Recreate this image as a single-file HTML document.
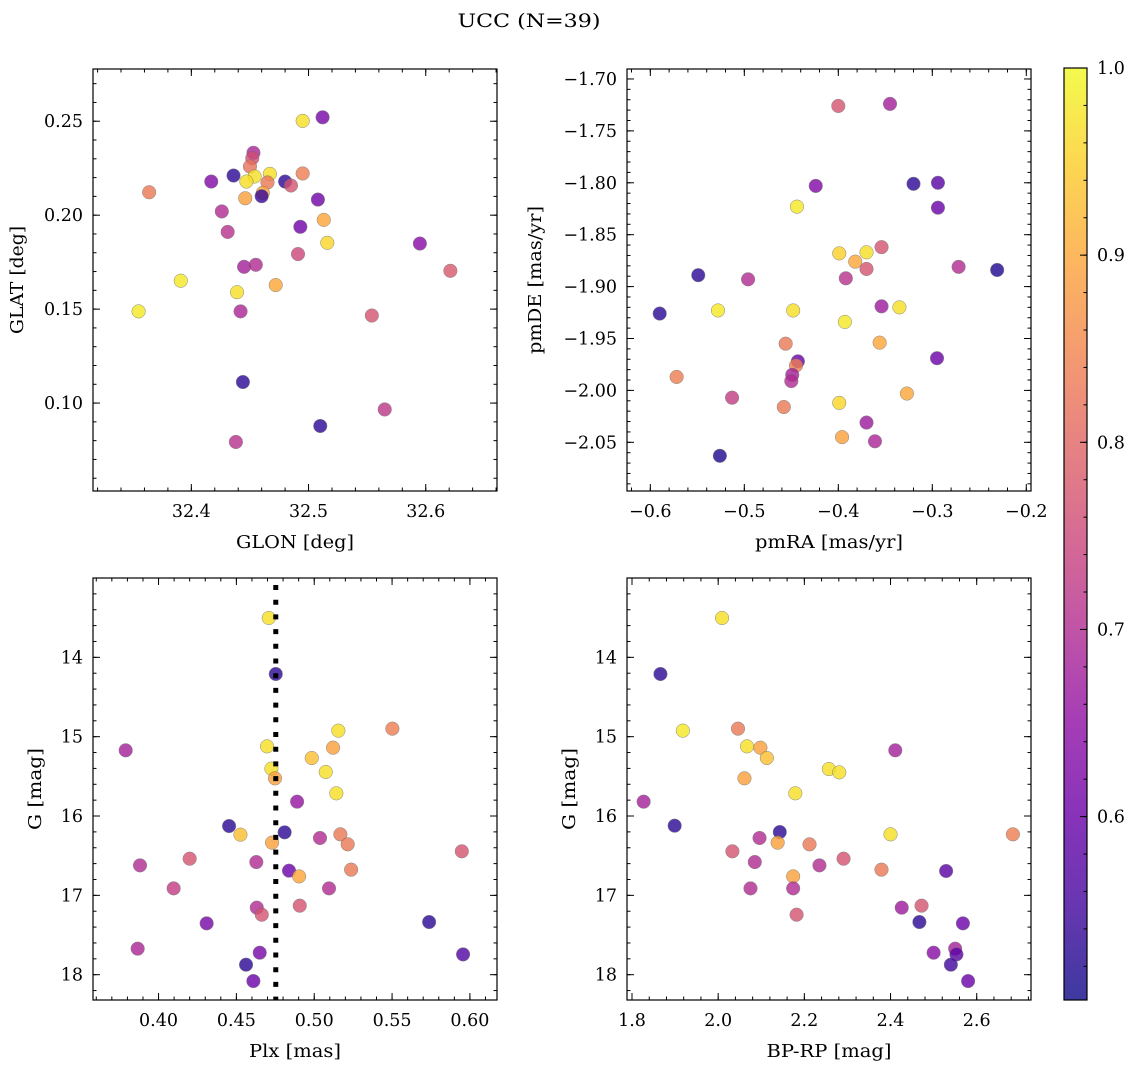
<!DOCTYPE html>
<html><head><meta charset="utf-8">
<style>
html,body{margin:0;padding:0;background:#fff;}
svg{display:block;font-family:"DejaVu Serif","Liberation Serif",serif;}
</style></head>
<body>
<svg id="fig" width="1136" height="1068" viewBox="0 0 1136 1068" xmlns="http://www.w3.org/2000/svg">
<text x="529" y="27" font-size="19" text-anchor="middle" textLength="143" lengthAdjust="spacingAndGlyphs">UCC (N=39)</text>
</svg>
<script>
// ---------- data ----------
const glon = [32.495,32.512,32.453,32.452,32.450,32.436,32.417,32.364,32.454,32.447,32.467,32.465,32.480,32.485,32.461,32.460,32.446,32.495,32.508,32.426,32.431,32.493,32.513,32.516,32.491,32.595,32.621,32.445,32.455,32.391,32.439,32.472,32.355,32.442,32.554,32.444,32.565,32.510,32.438];
const glat = [0.2502,0.2521,0.2332,0.2303,0.2259,0.2211,0.2179,0.2122,0.2206,0.2179,0.2220,0.2174,0.2179,0.2158,0.2119,0.2101,0.2090,0.2222,0.2083,0.2020,0.1911,0.1938,0.1975,0.1853,0.1793,0.1849,0.1704,0.1725,0.1736,0.1651,0.1590,0.1628,0.1488,0.1488,0.1466,0.1112,0.0966,0.0878,0.0793];
const probA = [0.97,0.62,0.69,0.76,0.82,0.53,0.63,0.83,0.97,0.97,0.97,0.83,0.53,0.77,0.90,0.54,0.89,0.84,0.61,0.70,0.71,0.61,0.90,0.96,0.75,0.64,0.78,0.68,0.70,0.98,0.97,0.90,0.98,0.69,0.77,0.53,0.72,0.53,0.71];

const pmra = [-0.400,-0.345,-0.424,-0.320,-0.294,-0.294,-0.444,-0.354,-0.399,-0.370,-0.382,-0.370,-0.392,-0.272,-0.231,-0.549,-0.496,-0.590,-0.528,-0.448,-0.393,-0.354,-0.335,-0.456,-0.356,-0.443,-0.445,-0.449,-0.450,-0.295,-0.572,-0.513,-0.458,-0.399,-0.327,-0.370,-0.396,-0.361,-0.526];
const pmde = [-1.726,-1.724,-1.803,-1.801,-1.800,-1.824,-1.823,-1.862,-1.868,-1.867,-1.876,-1.883,-1.892,-1.881,-1.884,-1.889,-1.893,-1.926,-1.923,-1.923,-1.934,-1.919,-1.920,-1.955,-1.954,-1.972,-1.976,-1.985,-1.991,-1.969,-1.987,-2.007,-2.016,-2.012,-2.003,-2.031,-2.045,-2.049,-2.063];
const probB = [0.77,0.68,0.63,0.53,0.58,0.60,0.98,0.77,0.95,0.97,0.90,0.77,0.71,0.70,0.52,0.53,0.70,0.53,0.98,0.97,0.98,0.67,0.97,0.83,0.90,0.60,0.84,0.68,0.70,0.60,0.84,0.73,0.83,0.96,0.90,0.67,0.89,0.69,0.52];

const plx = [0.4708,0.4753,0.5502,0.5155,0.3789,0.4697,0.5121,0.4984,0.4725,0.5074,0.4748,0.5142,0.4890,0.4453,0.4526,0.4810,0.5037,0.5168,0.5215,0.4729,0.5948,0.3881,0.4200,0.4628,0.4838,0.4903,0.5237,0.4097,0.5095,0.4631,0.4663,0.4907,0.4309,0.5738,0.3866,0.4650,0.5956,0.4562,0.4609];
const gC = [13.504,14.210,14.899,14.924,15.172,15.122,15.139,15.269,15.403,15.445,15.525,15.714,15.819,16.126,16.235,16.206,16.277,16.231,16.357,16.336,16.445,16.622,16.538,16.580,16.689,16.761,16.676,16.912,16.912,17.155,17.244,17.130,17.353,17.336,17.672,17.723,17.744,17.874,18.080];
const probC = [0.97,0.53,0.84,0.97,0.68,0.97,0.89,0.93,0.97,0.97,0.89,0.97,0.66,0.53,0.93,0.53,0.70,0.83,0.83,0.89,0.77,0.70,0.77,0.70,0.60,0.90,0.83,0.73,0.70,0.70,0.77,0.77,0.62,0.53,0.69,0.62,0.57,0.53,0.60];
const plxMedian = [0.4753];

const bprp = [2.009,1.866,1.918,2.046,2.067,2.098,2.113,2.411,2.257,2.281,2.061,2.179,1.827,1.899,2.143,2.096,2.138,2.212,2.400,2.684,2.033,2.085,2.291,2.235,2.379,2.529,2.174,2.174,2.075,2.426,2.472,2.467,2.568,2.550,2.553,2.500,2.540,2.580,2.182];
const gD = [13.504,14.210,14.924,14.899,15.122,15.139,15.269,15.172,15.408,15.450,15.525,15.714,15.819,16.122,16.202,16.277,16.336,16.357,16.231,16.231,16.445,16.580,16.538,16.622,16.676,16.693,16.761,16.912,16.912,17.155,17.130,17.336,17.353,17.672,17.744,17.723,17.874,18.080,17.244];
const probD = [0.97,0.53,0.98,0.83,0.97,0.89,0.93,0.68,0.97,0.97,0.89,0.97,0.68,0.53,0.53,0.70,0.89,0.83,0.97,0.84,0.77,0.70,0.77,0.70,0.83,0.58,0.89,0.70,0.70,0.67,0.77,0.53,0.60,0.68,0.58,0.64,0.55,0.60,0.77];

const cbTicks = [0.6,0.7,0.8,0.9,1.0];
const cbMin = 0.502, cbMax = 1.0;

// ---------- helpers ----------
const NS = "http://www.w3.org/2000/svg";
const svg = document.getElementById('fig');
function mk(tag, attrs, parent){
  const e = document.createElementNS(NS, tag);
  for (const k in attrs) e.setAttribute(k, attrs[k]);
  (parent||svg).appendChild(e);
  return e;
}
const PL = [[13,8,135],[65,4,157],[106,0,168],[143,13,164],[177,42,144],[204,71,120],[225,100,98],[242,132,75],[252,166,54],[252,206,37],[240,249,33]];
function plasma(t){
  t = Math.max(0, Math.min(1, t));
  const f = t*10, i = Math.min(9, Math.floor(f)), r = f - i;
  const a = PL[i], b = PL[i+1];
  return `rgb(${Math.round(a[0]+(b[0]-a[0])*r)},${Math.round(a[1]+(b[1]-a[1])*r)},${Math.round(a[2]+(b[2]-a[2])*r)})`;
}
function colorOf(p){ return plasma((p - cbMin)/(cbMax - cbMin)); }
function fmt(v, d){ const s = v.toFixed(d); return s.startsWith('-') ? '\u2212' + s.slice(1) : s; }

function panel(cfg){
  const g = mk('g', {});
  
  
  const {x0, y0, w, h, xlim, ylim} = cfg;
  const sx = v => x0 + (v - xlim[0])/(xlim[1]-xlim[0])*w;
  const sy = cfg.invertY
    ? (v => y0 + (v - ylim[0])/(ylim[1]-ylim[0])*h)
    : (v => y0 + h - (v - ylim[0])/(ylim[1]-ylim[0])*h);
  const tg = mk('g', {stroke:'#000','stroke-width':1}, g);
  
  
  function ticksX(step, len){
    const s = Math.ceil(xlim[0]/step - 1e-6);
    for (let k = s; k*step <= xlim[1] + 1e-9; k++){
      const x = sx(k*step);
      mk('line', {x1:x, x2:x, y1:y0+h, y2:y0+h-len}, tg);
      mk('line', {x1:x, x2:x, y1:y0, y2:y0+len}, tg);
    }
  }
  function ticksY(step, len){
    const s = Math.ceil(ylim[0]/step - 1e-6);
    for (let k = s; k*step <= ylim[1] + 1e-9; k++){
      const y = sy(k*step);
      mk('line', {x1:x0, x2:x0+len, y1:y, y2:y}, tg);
      mk('line', {x1:x0+w, x2:x0+w-len, y1:y, y2:y}, tg);
    }
  }
  ticksX(cfg.xminor, 3.5); ticksX(cfg.xmajor, 7);
  ticksY(cfg.yminor, 3.5); ticksY(cfg.ymajor, 7);
  cfg.xticks.forEach(v => {
    const t = mk('text', {x:sx(v), y:y0+h+26, 'font-size':17.5, 'text-anchor':'middle'}, g);
    t.textContent = fmt(v, cfg.xdec);
    
    
  });
  cfg.yticks.forEach(v => {
    const t = mk('text', {x:x0-10, y:sy(v)+6, 'font-size':17.5, 'text-anchor':'end'}, g);
    t.textContent = fmt(v, cfg.ydec);
    
    
  });
  const xt = mk('text', {x:x0+w/2, y:y0+h+57, 'font-size':17.5, 'text-anchor':'middle', textLength:cfg.xlabW, lengthAdjust:'spacingAndGlyphs'}, g);
  xt.textContent = cfg.xlabel;
  
  
  const yt = mk('text', {x:0, y:0, 'font-size':17.5, 'text-anchor':'middle', textLength:cfg.ylabW, lengthAdjust:'spacingAndGlyphs', transform:`translate(${cfg.ylabX},${y0+h/2}) rotate(-90)`}, g);
  yt.textContent = cfg.ylabel;
  
  
  const pg = mk('g', {}, g);
  
  
  cfg.xs.forEach((xv, i) => {
    const c = mk('circle', {cx:sx(xv), cy:sy(cfg.ys[i]), r:6.8, fill:colorOf(cfg.cs[i]), stroke:'#666','stroke-width':0.5, opacity:0.8}, pg);
    
    
  });
  if (cfg.vline){
    const l = mk('line', {x1:sx(cfg.vline[0]), x2:sx(cfg.vline[0]), y1:y0+7, y2:y0+h, stroke:'#000','stroke-width':5,'stroke-dasharray':'5 9.7'}, g);
    
    
  }
  const f = mk('rect', {x:x0, y:y0, width:w, height:h, fill:'none', stroke:'#000','stroke-width':1.2}, g);
  
  
}

panel({name:'glon-glat-panel', x0:93, y0:69, w:404, h:422, xlim:[32.3161,32.6608], ylim:[0.0532,0.2778],
  xmajor:0.1, xminor:0.02, ymajor:0.05, yminor:0.01, xticks:[32.4,32.5,32.6], yticks:[0.10,0.15,0.20,0.25], xdec:1, ydec:2,
  xlabel:'GLON [deg]', ylabel:'GLAT [deg]', xlabW:118, ylabW:108, ylabX:23, xs:glon, ys:glat, cs:probA});
panel({name:'pm-panel', x0:627, y0:69, w:404, h:422, xlim:[-0.6248,-0.195], ylim:[-2.0969,-1.6904],
  xmajor:0.1, xminor:0.02, ymajor:0.05, yminor:0.01, xticks:[-0.6,-0.5,-0.4,-0.3,-0.2], yticks:[-2.05,-2.00,-1.95,-1.90,-1.85,-1.80,-1.75,-1.70], xdec:1, ydec:2,
  xlabel:'pmRA [mas/yr]', ylabel:'pmDE [mas/yr]', xlabW:148, ylabW:148, ylabX:541, xs:pmra, ys:pmde, cs:probB});
panel({name:'plx-g-panel', x0:93, y0:578, w:404, h:422, xlim:[0.3579,0.6174], ylim:[13.0,18.319], invertY:true,
  xmajor:0.05, xminor:0.01, ymajor:1, yminor:0.2, xticks:[0.40,0.45,0.50,0.55,0.60], yticks:[14,15,16,17,18], xdec:2, ydec:0,
  xlabel:'Plx [mas]', ylabel:'G [mag]', xlabW:92, ylabW:82, ylabX:41, xs:plx, ys:gC, cs:probC, vline:plxMedian});
panel({name:'cmd-panel', x0:627, y0:578, w:404, h:422, xlim:[1.7884,2.726], ylim:[13.0,18.319], invertY:true,
  xmajor:0.2, xminor:0.04, ymajor:1, yminor:0.2, xticks:[1.8,2.0,2.2,2.4,2.6], yticks:[14,15,16,17,18], xdec:1, ydec:0,
  xlabel:'BP-RP [mag]', ylabel:'G [mag]', xlabW:125, ylabW:82, ylabX:575, xs:bprp, ys:gD, cs:probD});

// colorbar
(function(){
  const g = mk('g', {});
  
  
  const x0 = 1064, w = 23, top = 68, bot = 1000;
  const defs = mk('defs', {}, g);
  const lg = mk('linearGradient', {id:'cbgrad', x1:0, y1:1, x2:0, y2:0}, defs);
  for (let i = 0; i <= 20; i++) mk('stop', {offset:(i/20).toFixed(3), 'stop-color':plasma(i/20)}, lg);
  const r = mk('rect', {x:x0, y:top, width:w, height:bot-top, fill:'url(#cbgrad)', opacity:0.8}, g);
  
  
  const sy = v => bot - (v - cbMin)/(cbMax - cbMin)*(bot-top);
  for (let k = Math.ceil(cbMin/0.02); k*0.02 <= cbMax + 1e-9; k++){
    const y = sy(k*0.02);
    mk('line', {x1:x0+w, x2:x0+w-3.5, y1:y, y2:y, stroke:'#000','stroke-width':1}, g);
  }
  cbTicks.forEach(v => {
    const y = sy(v);
    mk('line', {x1:x0+w, x2:x0+w-7, y1:y, y2:y, stroke:'#000','stroke-width':1}, g);
    const t = mk('text', {x:x0+w+10, y:y+6, 'font-size':17.5}, g);
    t.textContent = v.toFixed(1);
    
    
  });
  const f = mk('rect', {x:x0, y:top, width:w, height:bot-top, fill:'none', stroke:'#000','stroke-width':1.2}, g);
  
  
})();
</script>
</body></html>
